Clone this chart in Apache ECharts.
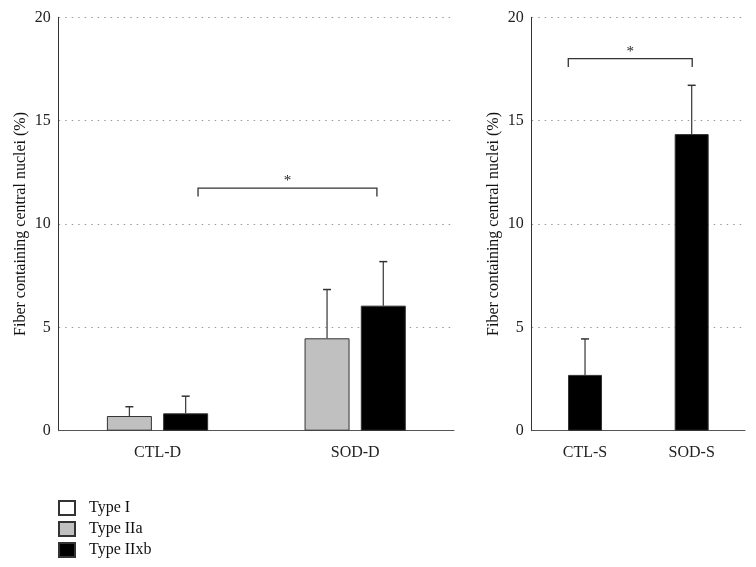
<!DOCTYPE html>
<html>
<head>
<meta charset="utf-8">
<script src="https://cdn.jsdelivr.net/npm/echarts@6/dist/echarts.min.js"></script>
<style>html,body{margin:0;padding:0;background:#fff}#c{width:756px;height:567px}</style>
</head>
<body>
<div id="c"></div>
<script>
// ---- data ----
const categoriesD = ['CTL-D', 'SOD-D'];
const typeIIaD = [0.71, 4.47];
const typeIIaDErr = [0.45, 2.36];
const typeIIxbD = [0.84, 6.05];
const typeIIxbDErr = [0.83, 2.13];
const categoriesS = ['CTL-S', 'SOD-S'];
const typeIIxbS = [2.70, 14.35];
const typeIIxbSErr = [1.74, 2.36];
const yTicks = [0, 5, 10, 15, 20];
// significance brackets: [catA, fracA, catB, fracB, yTop, yLeg]
const sigD = [[0, 0.205, 1, 0.11, 11.74, 11.33]];
const sigS = [[0, -0.157, 1, 0.005, 18.0, 17.6]];

const FONT = 'Liberation Serif';
const FS = 16;
const BW_D = 45, GAP_D = 11.25, BW_S = 34;

function errSeries(name, xi, yi, vals, errs, offset) {
  return {
    type: 'custom', name: name + ' err', xAxisIndex: xi, yAxisIndex: yi, z: 5,
    silent: true,
    data: vals.map((v, i) => [i, v, errs[i]]),
    renderItem: function (params, api) {
      const base = api.coord([api.value(0), api.value(1)]);
      const top = api.coord([api.value(0), api.value(1) + api.value(2)]);
      const x = base[0] + offset;
      return {
        type: 'group', children: [
          { type: 'line', shape: { x1: x, y1: base[1], x2: x, y2: top[1] }, style: { stroke: '#444', lineWidth: 1.3 } },
          { type: 'line', shape: { x1: x - 4, y1: top[1], x2: x + 4, y2: top[1] }, style: { stroke: '#333', lineWidth: 1.5 } }
        ]
      };
    }
  };
}

function sigSeries(xi, yi, data) {
  return {
    type: 'custom', xAxisIndex: xi, yAxisIndex: yi, silent: true, z: 6,
    data: data,
    renderItem: function (params, api) {
      const c0 = api.coord([0, 0]), c1 = api.coord([1, 0]);
      const bw = c1[0] - c0[0];
      const xa = api.coord([api.value(0), 0])[0] + api.value(1) * bw;
      const xb = api.coord([api.value(2), 0])[0] + api.value(3) * bw;
      const yt = api.coord([0, api.value(4)])[1];
      const yl = api.coord([0, api.value(5)])[1];
      return {
        type: 'group', children: [
          { type: 'polyline', shape: { points: [[xa, yl], [xa, yt], [xb, yt], [xb, yl]] }, style: { stroke: '#333', lineWidth: 1.3, fill: null } },
          { type: 'text', style: { text: '*', x: (xa + xb) / 2, y: yt - 7, textAlign: 'center', textVerticalAlign: 'middle', font: '15px ' + FONT, fill: '#222' } }
        ]
      };
    }
  };
}

const yAxisCommon = {
  type: 'value', min: 0, max: 20, interval: 5,
  name: 'Fiber containing central nuclei (%)', nameLocation: 'middle', nameGap: 30,
  nameMoveOverlap: false,
  nameTextStyle: { fontFamily: FONT, fontSize: FS, color: '#111' },
  axisLine: { show: true, lineStyle: { color: '#333', width: 1 } },
  axisTick: { show: false },
  axisLabel: { fontFamily: FONT, fontSize: FS, color: '#222', margin: 8,
    formatter: v => yTicks.includes(v) ? String(v) : '' },
  splitLine: { show: true, lineStyle: { color: '#999', type: [1.5, 5], width: 1 } }
};
const xAxisCommon = {
  type: 'category',
  axisLine: { show: true, lineStyle: { color: '#555', width: 1.2 } },
  axisTick: { show: false },
  axisLabel: { fontFamily: FONT, fontSize: FS, color: '#222', margin: 14 }
};

const option = {
  animation: false,
  backgroundColor: '#fff',
  grid: [
    { left: 58.7, right: 302, top: 17.3, bottom: 136.3 },
    { left: 531.7, right: 11, top: 17.3, bottom: 136.3 },
    { left: 0, top: 0, width: 1, height: 1, show: false }
  ],
  xAxis: [
    Object.assign({}, xAxisCommon, { gridIndex: 0, data: categoriesD }),
    Object.assign({}, xAxisCommon, { gridIndex: 1, data: categoriesS }),
    { type: 'category', gridIndex: 2, show: false, data: ['x'] }
  ],
  yAxis: [
    Object.assign({}, yAxisCommon, { gridIndex: 0, nameGap: 30 }),
    Object.assign({}, yAxisCommon, { gridIndex: 1, nameGap: 30 }),
    { type: 'value', gridIndex: 2, show: false }
  ],
  legend: {
    orient: 'vertical', left: 58, top: 500, padding: 0, itemWidth: 16, itemHeight: 14, itemGap: 5,
    icon: 'rect',
    data: ['Type I', 'Type IIa', 'Type IIxb'],
    textStyle: { fontFamily: FONT, fontSize: FS, color: '#111', padding: [0, 0, 0, 9] }
  },
  series: [
    { type: 'bar', name: 'Type I', xAxisIndex: 2, yAxisIndex: 2, data: [],
      itemStyle: { color: '#fff', borderColor: '#333', borderWidth: 1 } },
    { type: 'bar', name: 'Type IIa', xAxisIndex: 0, yAxisIndex: 0, data: typeIIaD,
      barWidth: BW_D, barGap: (GAP_D / BW_D * 100) + '%',
      itemStyle: { color: '#c0c0c0', borderColor: '#333', borderWidth: 1 } },
    { type: 'bar', name: 'Type IIxb', xAxisIndex: 0, yAxisIndex: 0, data: typeIIxbD,
      barWidth: BW_D, barGap: (GAP_D / BW_D * 100) + '%',
      itemStyle: { color: '#000', borderColor: '#333', borderWidth: 1 } },
    { type: 'bar', name: 'Type IIxb', xAxisIndex: 1, yAxisIndex: 1, data: typeIIxbS,
      barWidth: BW_S,
      itemStyle: { color: '#000', borderColor: '#333', borderWidth: 1 } },
    errSeries('IIaD', 0, 0, typeIIaD, typeIIaDErr, -(BW_D + GAP_D) / 2),
    errSeries('IIxbD', 0, 0, typeIIxbD, typeIIxbDErr, (BW_D + GAP_D) / 2),
    errSeries('IIxbS', 1, 1, typeIIxbS, typeIIxbSErr, 0),
    sigSeries(0, 0, sigD),
    sigSeries(1, 1, sigS)
  ]
};
const chart = echarts.init(document.getElementById('c'), null, { renderer: 'canvas' });
chart.setOption(option);
</script>
</body>
</html>
